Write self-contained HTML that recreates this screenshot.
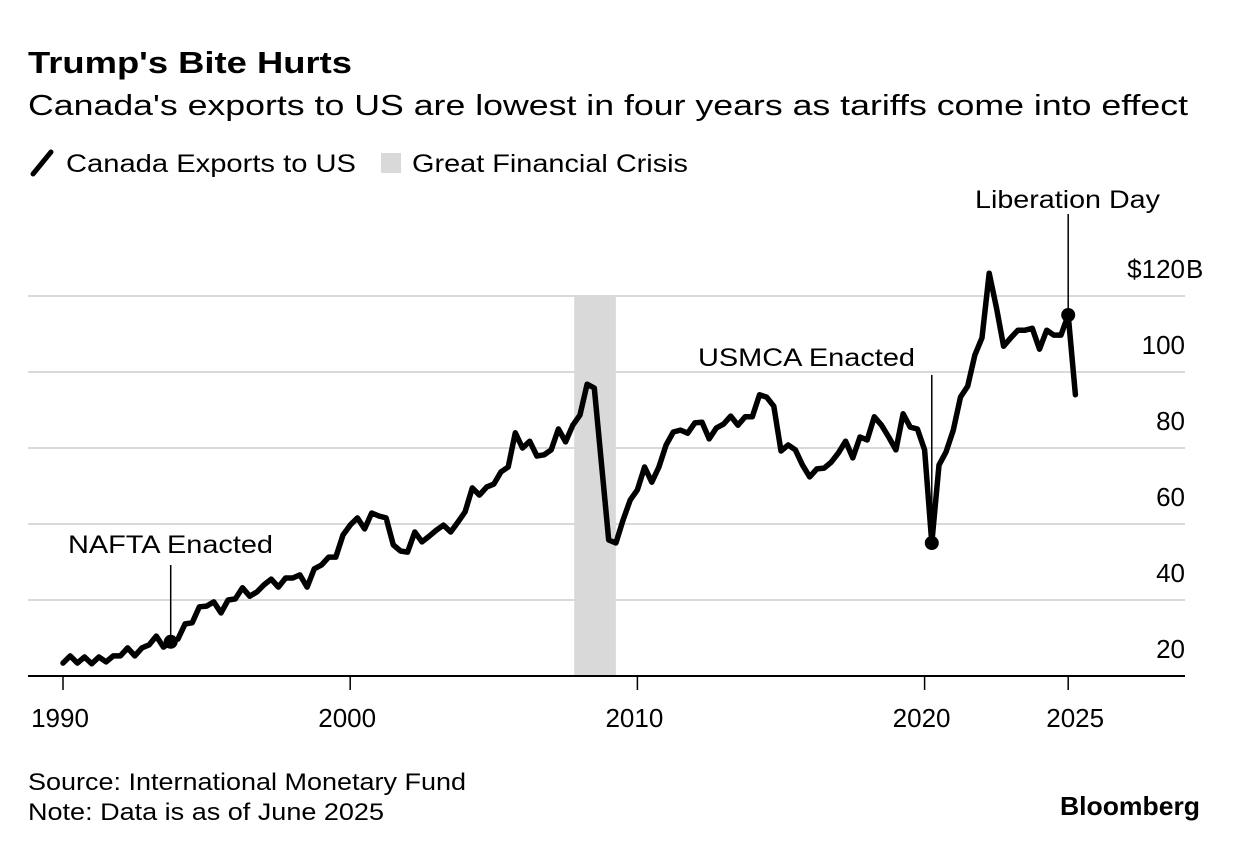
<!DOCTYPE html>
<html><head><meta charset="utf-8"><style>
html,body{margin:0;padding:0;background:#fff;}
svg{display:block;font-family:"Liberation Sans",sans-serif;}
</style></head><body>
<svg id="chart" width="1240" height="852" viewBox="0 0 1240 852" xmlns="http://www.w3.org/2000/svg">
<text x="28" y="73" font-size="31" font-weight="bold" fill="#000" textLength="324" lengthAdjust="spacingAndGlyphs">Trump's Bite Hurts</text>
<text x="28" y="115" font-size="29" fill="#000" textLength="1160" lengthAdjust="spacingAndGlyphs">Canada's exports to US are lowest in four years as tariffs come into effect</text>
<g>
<line x1="33" y1="174" x2="51" y2="152" stroke="#000" stroke-width="5" stroke-linecap="round"/>
<text x="66" y="172" font-size="25" textLength="290" lengthAdjust="spacingAndGlyphs">Canada Exports to US</text>
<rect x="381" y="153" width="20" height="20" fill="#d9d9d9"/>
<text x="412" y="172" font-size="25" textLength="276" lengthAdjust="spacingAndGlyphs">Great Financial Crisis</text>
</g>
<g id="plot"></g>
<text x="28" y="790" font-size="24" textLength="438" lengthAdjust="spacingAndGlyphs">Source: International Monetary Fund</text>
<text x="28" y="820" font-size="24" textLength="356" lengthAdjust="spacingAndGlyphs">Note: Data is as of June 2025</text>
<text x="1060" y="815" font-size="26" font-weight="bold" textLength="140" lengthAdjust="spacingAndGlyphs">Bloomberg</text>
</svg>
<script>
const values = [23.4,25.3,23.4,25,23.2,25,23.7,25.3,25.3,27.4,25.3,27.4,28.2,30.5,27.6,29,29.7,33.7,34,38.2,38.4,39.5,36.6,40,40.3,43.2,41,42.1,44,45.5,43.4,45.8,45.8,46.6,43.4,48.2,49.2,51.3,51.3,
57.1,59.7,61.6,58.7,62.9,62.1,61.6,54.5,52.9,52.6,57.9,55.3,56.8,58.4,59.7,57.9,60.5,63.2,69.5,67.6,69.7,70.5,73.7,75,84,80,81.8,77.9,78.2,79.5,85,81.6,86,88.7,96.8,95.8,75.8,55.8,55,61,66.3,
69,75,71,75,80.8,84.2,84.7,83.9,86.6,86.8,82.4,85.3,86.3,88.4,86,88.2,88.2,94,93.4,91,79.2,80.8,79.5,75.5,72.4,74.5,74.7,76.3,78.7,81.8,77.4,82.9,82.1,88.2,86,82.9,79.5,89,85.5,85,79.5,
55,75.5,79,84.7,93.4,96.3,104.5,109,126,117,106.8,109,111,111,111.5,106,111,109.7,109.7,115,94];
const startYear = 1990;
const yTicks = [20,40,60,80,100,120];
const xTicks = [1990,2000,2010,2020,2025];
const gfcPeriod = [2007.8,2009.25];
const annotations = [
  {label:"NAFTA Enacted", year:1993.75},
  {label:"USMCA Enacted", year:2020.25},
  {label:"Liberation Day", year:2025.0}
];
const X = y => 63 + (y - 1990) * 28.72;
const Y = v => 676 - (v - 20) * 3.8;
const NS = "http://www.w3.org/2000/svg";
const plot = document.getElementById('plot');
function mk(tag, attrs){const e=document.createElementNS(NS,tag);for(const k in attrs)e.setAttribute(k,attrs[k]);plot.appendChild(e);return e;}
let band = mk('rect',{x:X(gfcPeriod[0]),y:Y(120),width:X(gfcPeriod[1])-X(gfcPeriod[0]),height:Y(20)-Y(120),fill:'#d9d9d9'});


yTicks.forEach(t=>{
  if(t>20){
    const g = mk('line',{x1:28,x2:1185,y1:Y(t),y2:Y(t),stroke:'#d9d9d9','stroke-width':2});
    
    
  }
  const tx = mk('text',{x:1185,y:Y(t)-18,'font-size':26,'text-anchor':'end'});
  tx.textContent = t===120 ? '$120' : String(t);
  
  
  if(t===120){
    const b = mk('text',{x:1186,y:Y(t)-18,'font-size':26});
    b.textContent='B';
    
    
  }
});
const base = mk('line',{x1:28,x2:1185,y1:676,y2:676,stroke:'#000','stroke-width':2});


xTicks.forEach(t=>{
  const l = mk('line',{x1:X(t),x2:X(t),y1:676,y2:690,stroke:'#000','stroke-width':1.5});
  
  
  const tx = mk('text',{x:X(t)+(t===2025?7:-3),y:727,'font-size':26,'text-anchor':'middle'});
  tx.textContent=String(t);
  
  
});
const ann = [
  {y1:565, tx:68, ty:553, anchor:'start', w:205},
  {y1:375, tx:698, ty:366, anchor:'start', w:217},
  {y1:214, tx:975, ty:208, anchor:'start', w:185}
];
annotations.forEach((a,i)=>{
  const idx = Math.round((a.year-startYear)*4);
  const xx = X(startYear+idx/4), yy = Y(values[idx]);
  const l = mk('line',{x1:xx,x2:xx,y1:ann[i].y1,y2:yy,stroke:'#000','stroke-width':1.5});
  
  
  const t = mk('text',{x:ann[i].tx,y:ann[i].ty,'font-size':25,'text-anchor':ann[i].anchor,textLength:ann[i].w,lengthAdjust:'spacingAndGlyphs'});
  t.textContent=a.label;
  
  
});
const pts = values.map((v,i)=>X(startYear+i/4).toFixed(1)+','+Y(v).toFixed(1)).join(' ');
const line = mk('polyline',{points:pts,fill:'none',stroke:'#000','stroke-width':5.5,'stroke-linejoin':'round','stroke-linecap':'round'});


annotations.forEach((a,i)=>{
  const idx = Math.round((a.year-startYear)*4);
  const c = mk('circle',{cx:X(startYear+idx/4),cy:Y(values[idx]),r:7,fill:'#000'});
  
  
});
</script>
</body></html>
